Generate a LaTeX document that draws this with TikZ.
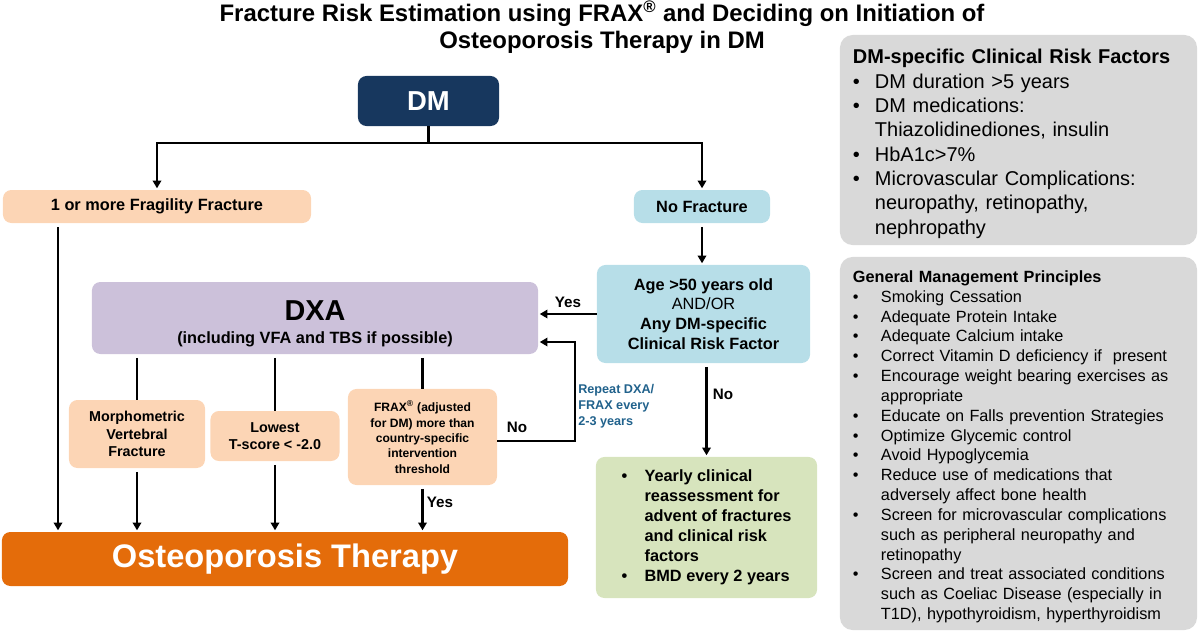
\documentclass[tikz,border=0pt]{standalone}
\usepackage{fontspec}
\setmainfont{Liberation Sans}
\usetikzlibrary{arrows.meta}
\definecolor{navy}{HTML}{17375E}
\definecolor{peach}{HTML}{FCD5B5}
\definecolor{lblue}{HTML}{B7DEE8}
\definecolor{lav}{HTML}{CCC1DA}
\definecolor{lgreen}{HTML}{D7E4BD}
\definecolor{orng}{HTML}{E46C0A}
\definecolor{pgray}{HTML}{D9D9D9}
\definecolor{teal2}{RGB}{33,98,140}
\newcommand{\fs}[2]{\fontsize{#1}{#2}\selectfont}
\begin{document}
\begin{tikzpicture}[x=0.025cm,y=-0.025cm,
  box/.style={rounded corners=6pt, inner sep=0pt, align=center},
  panel/.style={fill=pgray, rounded corners=9pt, inner ysep=0pt, inner xsep=0.325cm, minimum width=8.925cm, align=left},
  conn/.style={line width=1.7pt, shorten <=2.5pt},
  arr/.style={conn, -{Triangle[length=5.5pt,width=6pt]}, shorten >=1pt},
  lbl/.style={font=\bfseries\fs{10.8}{13}, inner sep=0pt}]
\useasboundingbox (0,0) rectangle (1200,633);

% title
\node[font=\bfseries\fs{17}{19.2}, align=center, inner sep=0pt] (title) at (602,27)
  {Fracture Risk Estimation using FRAX\textsuperscript{®} and Deciding on Initiation of\\Osteoporosis Therapy in DM};

% main flow nodes
\node[box, fill=navy, text=white, minimum width=3.525cm, minimum height=1.25cm, font=\bfseries\fs{19.5}{22}] (dm) at (428.5,101) {DM};
\node[box, fill=peach, minimum width=7.7cm, minimum height=0.825cm, font=\bfseries\fs{11.6}{14}] (frag) at (157,206.5) {1 or more Fragility Fracture};
\node[box, fill=lblue, minimum width=3.4cm, minimum height=0.825cm, font=\bfseries\fs{11.6}{14}] (nofrac) at (702,206.5) {No Fracture};
\node[box, fill=lblue, minimum width=5.325cm, minimum height=2.45cm, font=\fs{11.6}{14}] (age) at (703.5,314)
  {\textbf{Age >50 years old}\\AND/OR\\\textbf{Any DM-specific}\\\textbf{Clinical Risk Factor}};
\node[box, fill=lav, minimum width=11.15cm, minimum height=1.8cm, font=\bfseries\fs{11.6}{16.5}, text height=36.8pt, text depth=0pt] (dxa) at (315,318)
  {{\fs{20.5}{16.5}DXA}\\(including VFA and TBS if possible)};
\node[box, fill=peach, minimum width=3.4cm, minimum height=1.7cm, font=\bfseries\fs{10.2}{12.5}] (morph) at (137,434) {Morphometric\\Vertebral\\Fracture};
\node[box, fill=peach, minimum width=3.225cm, minimum height=1.25cm, font=\bfseries\fs{10.2}{12.3}] (lowest) at (275,436) {Lowest\\T-score < -2.0};
\node[box, fill=peach, minimum width=3.725cm, minimum height=2.4cm, font=\bfseries\fs{8.6}{10.9}] (frax) at (422.5,437)
  {FRAX\textsuperscript{®} (adjusted\\for DM) more than\\country-specific\\intervention\\threshold};
\node[box, fill=lgreen, minimum width=5.525cm, minimum height=3.525cm, font=\bfseries\fs{11.6}{14.2}] (green) at (706.5,527.5)
  {\begin{tabular}{@{}p{0.575cm}@{}l@{}}
   •&Yearly clinical\\
    &reassessment for\\
    &advent of fractures\\
    &and clinical risk\\
    &factors\\
   •&BMD every 2 years
   \end{tabular}};
\node[box, fill=orng, text=white, minimum width=14.15cm, minimum height=1.35cm, font=\bfseries\fs{23.2}{26}] (osteo) at (285,559) {Osteoporosis Therapy};

% side panels
\node[panel, minimum height=5.25cm, text width=8.275cm, font=\fs{14.2}{17.3}] (p1) at (1018.5,140)
  {\begin{tabular}{@{}p{0.55cm}@{}l@{}}
   \multicolumn{2}{@{}l@{}}{\bfseries DM-specific Clinical Risk Factors}\\
   •&DM duration >5 years\\
   •&DM medications:\\
    &Thiazolidinediones, insulin\\
   •&HbA1c>7\%\\
   •&Microvascular Complications:\\
    &neuropathy, retinopathy,\\
    &nephropathy\\[-6pt]
   \end{tabular}};
\node[panel, minimum height=9.325cm, text width=8.275cm, font=\fs{11.56}{14.1}] (p2) at (1018.5,443.5)
  {\begin{tabular}{@{}p{0.7cm}@{}l@{}}
   \multicolumn{2}{@{}l@{}}{\bfseries General Management Principles}\\
   •&Smoking Cessation\\
   •&Adequate Protein Intake\\
   •&Adequate Calcium intake\\
   •&Correct Vitamin D deficiency if~ present\\
   •&Encourage weight bearing exercises as\\
    &appropriate\\
   •&Educate on Falls prevention Strategies\\
   •&Optimize Glycemic control\\
   •&Avoid Hypoglycemia\\
   •&Reduce use of medications that\\
    &adversely affect bone health\\
   •&Screen for microvascular complications\\
    &such as peripheral neuropathy and\\
    &retinopathy\\
   •&Screen and treat associated conditions\\
    &such as Coeliac Disease (especially in\\
    &T1D), hypothyroidism, hyperthyroidism\\[-5pt]
   \end{tabular}};

% labels
\node[lbl] (yes1) at (568,302) {Yes};
\node[lbl] (no1) at (517,427) {No};
\node[lbl] (no2) at (723,394) {No};
\node[lbl] (yes2) at (440,502) {Yes};
\node[font=\bfseries\fs{9}{11.4}, text=teal2, align=left, anchor=west, inner sep=0pt] (rep) at (578,406)
  {Repeat DXA/\\FRAX every\\2-3 years};

% connectors
\coordinate (br) at (428.5,143);
\draw[line width=1.7pt] (dm.south) -- (br);
\draw[arr, shorten <=0pt] (br) -| (frag.north);
\draw[arr, shorten <=0pt] (br) -| (nofrac.north);
\coordinate (fl) at (58,227);
\draw[arr, shorten <=0pt] (fl) -- (fl |- osteo.north);
\draw[arr] (nofrac.south) -- (nofrac.south |- age.north);
\draw[arr, shorten <=0pt] (age.west) -- (age.west -| dxa.east);
\coordinate (lp) at (575,342);
\draw[arr, shorten <=0pt] ([yshift=-0.1cm]frax.east) -| (lp) -- (lp -| dxa.east);
\draw[conn] (dxa.south -| morph.north) -- (morph.north);
\draw[conn] (dxa.south -| lowest.north) -- (lowest.north);
\draw[conn] (dxa.south -| frax.north) -- (frax.north);
\draw[arr] (morph.south) -- (morph.south |- osteo.north);
\draw[arr] (lowest.south) -- (lowest.south |- osteo.north);
\draw[arr] (frax.south) -- (frax.south |- osteo.north);
\draw[arr] (age.south -| green.north) -- (green.north);
\end{tikzpicture}
\end{document}
